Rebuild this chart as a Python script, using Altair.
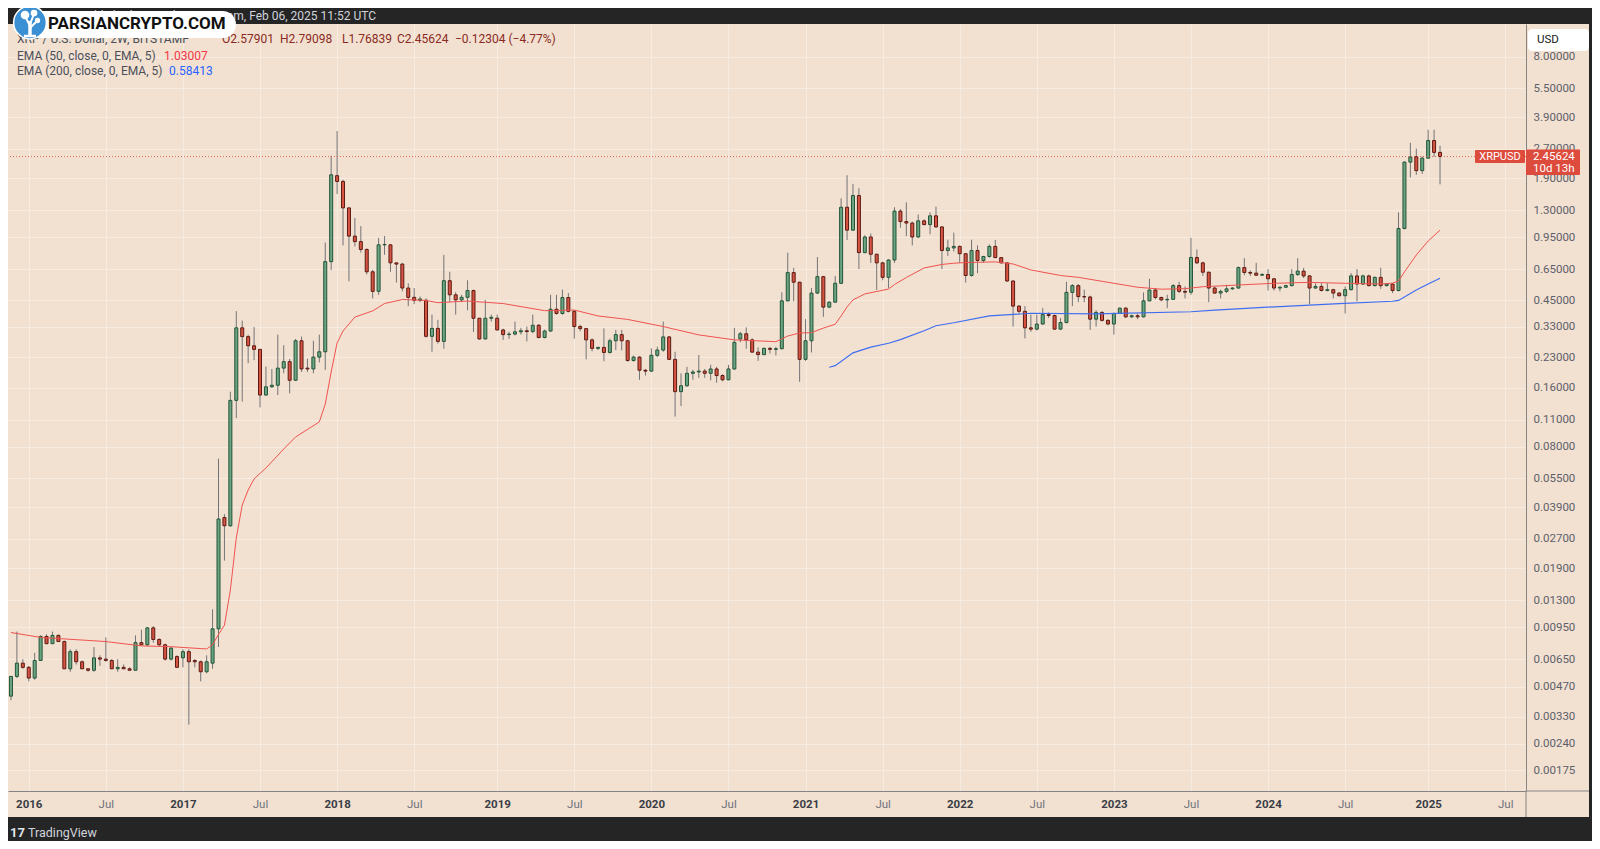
import altair as alt
import pandas as pd

# ---------------- data (XRP/USD, 2W candles, BITSTAMP) ----------------
opens = [
    .0042, .0053, .0062, .0059, .0052, .0064, .0085, .0078, .0086, .0080,
    .0058, .0071, .0063, .0058, .0057, .0066, .0065, .0064, .0058, .0059,
    .0058, .0057, .0079, .0077, .0094, .0082, .0077, .0065, .0067, .0066,
    .0071, .0064, .0063, .0056, .0062, .0093, .0346, .0314, .138, .325,
    .293, .263, .252, .147, .162, .165, .202, .218, .175, .279,
    .202, .200, .230, .245, .71, 1.96, 1.83, 1.34, .96, .90,
    .82, .63, .50, .866, .866, .70, .69, .52, .466, .45,
    .45, .294, .323, .277, .567, .48, .452, .466, .505, .364,
    .285, .364, .364, .317, .30, .302, .31, .314, .311, .335,
    .29, .313, .405, .385, .465, .395, .33, .322, .282, .255,
    .258, .243, .279, .30, .279, .221, .23, .197, .195, .235,
    .25, .292, .224, .153, .164, .19, .193, .195, .19, .20,
    .185, .176, .20, .285, .303, .282, .244, .237, .255, .252,
    .254, .447, .624, .557, .224, .279, .49, .595, .415, .44,
    .55, 1.35, 1.03, 1.55, .79, .95, .775, .70, .59, .724,
    1.29, 1.14, 1.12, .95, 1.15, 1.10, 1.22, 1.07, .81, .835,
    .85, .78, .603, .81, .72, .755, .85, .745, .70, .565,
    .42, .395, .325, .32, .34, .38, .376, .32, .346, .494,
    .535, .47, .468, .36, .39, .355, .34, .385, .41, .37,
    .375, .37, .447, .508, .465, .452, .455, .535, .50, .495,
    .746, .70, .627, .52, .49, .50, .515, .52, .662, .625,
    .62, .605, .61, .58, .52, .525, .535, .61, .635, .60,
    .52, .53, .505, .51, .49, .475, .51, .60, .545, .60,
    .535, .59, .535, .545, .505, 1.05, 2.30, 2.45, 2.08, 2.41,
    2.97, 2.57901,
]
highs = [
    .0053, .0090, .0065, .0060, .0070, .0086, .0087, .0090, .0087, .0081,
    .0073, .0073, .0064, .0058, .0075, .0068, .0084, .0065, .0065, .0061,
    .0059, .0086, .0092, .0095, .0096, .0083, .0078, .0075, .0068, .0073,
    .0073, .0065, .0064, .0068, .0117, .0694, .0360, .153, .396, .354,
    .300, .328, .252, .206, .200, .300, .265, .225, .285, .293,
    .226, .279, .300, .89, 2.48, 3.32, 1.87, 1.34, 1.19, 1.08,
    .83, .645, .94, .96, .87, .70, .70, .55, .52, .47,
    .46, .38, .357, .77, .63, .495, .48, .57, .51, .364,
    .452, .38, .38, .322, .31, .35, .325, .33, .38, .34,
    .318, .48, .48, .51, .49, .40, .337, .325, .287, .26,
    .323, .286, .317, .317, .282, .234, .232, .20, .255, .26,
    .35, .295, .245, .19, .205, .198, .236, .20, .21, .205,
    .188, .21, .325, .31, .327, .287, .258, .258, .26, .26,
    .495, .79, .66, .56, .36, .52, .75, .60, .445, .60,
    1.50, 1.97, 1.78, 1.69, .97, .99, .78, .71, .73, 1.35,
    1.32, 1.43, 1.14, 1.24, 1.17, 1.27, 1.36, 1.08, .92, 1.0,
    .86, .785, .92, .86, .76, .87, .917, .75, .70, .57,
    .425, .42, .38, .38, .41, .39, .38, .365, .56, .545,
    .545, .51, .475, .40, .395, .36, .39, .413, .415, .38,
    .385, .494, .58, .52, .47, .48, .545, .56, .53, .94,
    .82, .71, .63, .53, .51, .54, .525, .67, .74, .64,
    .70, .62, .65, .585, .53, .54, .65, .74, .66, .605,
    .55, .55, .55, .515, .495, .53, .62, .65, .61, .61,
    .595, .66, .55, .55, 1.27, 2.32, 2.89, 2.70, 2.46, 3.37,
    3.37, 2.79098,
]
lows = [
    .0040, .0052, .0058, .0050, .0051, .0064, .0078, .0078, .0080, .0058,
    .0056, .0061, .0058, .0056, .0056, .0060, .0063, .0058, .0056, .0058,
    .0057, .0057, .0077, .0076, .0079, .0076, .0064, .0064, .0059, .0059,
    .0030, .0059, .0050, .0055, .0058, .0075, .0208, .0310, .112, .136,
    .214, .222, .127, .146, .160, .147, .190, .150, .174, .193,
    .193, .190, .216, .198, .644, 1.58, .86, .563, .85, .79,
    .61, .46, .48, .77, .63, .555, .50, .42, .43, .44,
    .29, .245, .27, .254, .44, .38, .44, .40, .31, .283,
    .283, .35, .315, .282, .285, .297, .30, .277, .305, .287,
    .287, .31, .38, .38, .39, .286, .312, .224, .246, .25,
    .219, .24, .25, .249, .218, .218, .176, .185, .193, .23,
    .245, .222, .114, .129, .162, .176, .18, .18, .175, .17,
    .173, .175, .198, .274, .254, .242, .22, .235, .24, .235,
    .252, .445, .445, .172, .22, .243, .485, .37, .41, .437,
    .545, .917, 1.02, .65, .785, .70, .508, .57, .52, .70,
    1.06, .96, .86, .94, 1.09, .98, 1.06, .65, .76, .80,
    .70, .555, .595, .62, .70, .745, .74, .695, .56, .33,
    .38, .287, .31, .315, .337, .365, .318, .318, .343, .42,
    .44, .44, .317, .33, .35, .335, .30, .383, .365, .365,
    .36, .367, .445, .455, .445, .41, .452, .49, .46, .48,
    .69, .60, .44, .485, .46, .49, .51, .515, .605, .60,
    .60, .60, .505, .505, .50, .52, .53, .60, .585, .43,
    .515, .50, .50, .46, .47, .385, .505, .445, .54, .53,
    .53, .515, .53, .49, .50, 1.04, 1.92, 1.98, 2.00, 2.40,
    2.45, 1.76839,
]
closes = [
    .0053, .0062, .0059, .0052, .0064, .0085, .0078, .0086, .0080, .0058,
    .0071, .0063, .0058, .0057, .0066, .0065, .0064, .0058, .0059, .0058,
    .0057, .0079, .0077, .0094, .0082, .0077, .0065, .0074, .0059, .0071,
    .0063, .0063, .0056, .0063, .0093, .0340, .0314, .138, .325, .293,
    .263, .252, .147, .162, .165, .202, .218, .175, .279, .200,
    .200, .230, .245, .71, 1.98, 1.83, 1.34, .96, .90, .82,
    .63, .50, .866, .87, .70, .69, .52, .466, .45, .457,
    .294, .323, .277, .567, .48, .452, .466, .505, .364, .285,
    .364, .368, .317, .30, .302, .31, .314, .311, .335, .29,
    .313, .405, .385, .465, .395, .33, .322, .282, .255, .258,
    .243, .279, .30, .279, .221, .23, .197, .195, .235, .25,
    .292, .224, .153, .164, .19, .193, .195, .19, .20, .185,
    .176, .20, .274, .303, .282, .244, .237, .255, .252, .254,
    .447, .624, .557, .224, .279, .49, .595, .415, .44, .55,
    1.35, 1.03, 1.55, .79, .95, .775, .70, .59, .724, 1.29,
    1.14, 1.12, .95, 1.15, 1.10, 1.22, 1.07, .81, .835, .85,
    .78, .603, .81, .72, .755, .85, .745, .70, .565, .42,
    .395, .325, .32, .34, .38, .376, .32, .346, .494, .535,
    .47, .468, .36, .39, .355, .34, .385, .41, .37, .375,
    .37, .447, .508, .465, .452, .455, .535, .50, .495, .746,
    .70, .627, .52, .49, .50, .515, .52, .662, .625, .62,
    .605, .61, .58, .52, .525, .535, .61, .635, .60, .52,
    .53, .505, .51, .49, .475, .51, .60, .545, .60, .535,
    .59, .535, .545, .505, 1.05, 2.30, 2.44, 2.08, 2.41, 2.97,
    2.58, 2.45624,
]

# EMA readings (bar index, value)
ema50_idx = [0, 5, 16, 22, 27, 33, 34, 35, 36, 37,
             38, 39, 40, 41, 43, 46, 48, 52, 53, 54,
             55, 56, 58, 61, 63, 66, 68, 70, 72, 77,
             83, 90, 95, 99, 104, 110, 116, 122, 129, 131,
             133, 135, 137, 139, 140, 141, 142, 144, 148, 149,
             151, 154, 157, 159, 161, 166, 169, 172, 177, 180,
             186, 190, 194, 198, 201, 207, 213, 219, 225, 231,
             233, 234, 235, 237, 239, 241]
ema50_val = [0.0089, 0.0084, 0.0080, 0.0076, 0.00753, 0.00733, 0.0077, 0.0087, 0.0097, 0.0147,
             0.0272, 0.0401, 0.0479, 0.0546, 0.0621, 0.0777, 0.0896, 0.107, 0.132, 0.193,
             0.272, 0.313, 0.369, 0.397, 0.433, 0.454, 0.452, 0.449, 0.4375, 0.446,
             0.433, 0.398, 0.401, 0.374, 0.359, 0.330, 0.299, 0.282, 0.276, 0.295,
             0.306, 0.307, 0.324, 0.339, 0.374, 0.416, 0.452, 0.485, 0.514, 0.542,
             0.589, 0.659, 0.687, 0.697, 0.703, 0.708, 0.691, 0.644, 0.603, 0.59,
             0.55, 0.525, 0.513, 0.516, 0.528, 0.539, 0.55, 0.556, 0.55, 0.545,
             0.551, 0.565, 0.629, 0.768, 0.906, 1.03007]
ema200_idx = [138, 139, 142, 145, 148, 150, 154, 156, 159, 165, 172,
              183, 199, 203, 214, 224, 233, 234, 237, 239, 241]
ema200_val = [0.204, 0.208, 0.242, 0.259, 0.271, 0.283, 0.314, 0.333, 0.345, 0.374, 0.386,
              0.383, 0.393, 0.401, 0.418, 0.433, 0.445, 0.449, 0.508, 0.545, 0.58413]

y_ticks = [0.00175, 0.0024, 0.0033, 0.0047, 0.0065, 0.0095, 0.013, 0.019, 0.027,
           0.039, 0.055, 0.08, 0.11, 0.16, 0.23, 0.33, 0.45, 0.65, 0.95, 1.3,
           1.9, 2.7, 3.9, 5.5, 8.0]
# bars on which the time-axis labels sit
xtick_bars = [3, 16, 29, 42, 55, 68, 82, 95, 108, 121, 134, 147, 160, 173,
              186, 199, 212, 225, 239, 252]

# ---------------- styling ----------------
FONT = "Roboto"
BG = "#F2E1D1"
GRID = "#F7ECE2"
DARK = "#252525"
AXIS_LINE = "#858585"
G_BODY, G_BORDER = "#6ba583", "#225437"
R_BODY, R_BORDER = "#d75442", "#5b1a13"
WICK = "#737375"
EMA50_C = "#f0524f"
EMA200_C = "#3f6df2"
TAG = "#dd4b3d"
W, H = 1518, 767

START = pd.Timestamp("2015-11-09")


def bar_date(i):
    return (START + pd.Timedelta(days=14 * i)).strftime("%Y-%m-%d")


def dt(s):
    t = pd.Timestamp(s)
    return alt.DateTime(year=t.year, month=t.month, date=t.day, utc=True)


n = len(opens)
candles = pd.DataFrame({"d": [bar_date(i) for i in range(n)],
                        "o": opens, "h": highs, "l": lows, "c": closes})
ema50 = pd.DataFrame({"d": [bar_date(i) for i in ema50_idx], "v": ema50_val})
ema200 = pd.DataFrame({"d": [bar_date(i) for i in ema200_idx], "v": ema200_val})
cur_df = pd.DataFrame({"p": [closes[-1]]})
one = pd.DataFrame({"k": [0]})

is_year = "utcmonth(datum.value) == 11 || utcmonth(datum.value) == 0"
x_axis = alt.Axis(
    values=[dt(bar_date(k)) for k in xtick_bars], title=None, ticks=False,
    labelOverlap=False, labelFlush=False,
    labelExpr="utcmonth(datum.value) == 11 ? '' + (utcyear(datum.value) + 1) : "
              "(utcmonth(datum.value) == 0 ? '' + utcyear(datum.value) : 'Jul')",
    labelFont=FONT, labelFontSize=11.5, labelPadding=7,
    labelFontWeight={"condition": {"test": is_year, "value": "bold"}, "value": "normal"},
    labelColor={"condition": {"test": is_year, "value": "#3a3d45"}, "value": "#6f727c"},
    domainColor=AXIS_LINE, grid=True, gridColor=GRID, gridWidth=1)
x_scale = alt.Scale(type="utc", domain=[dt("2015-11-02"), dt("2025-08-25")],
                    padding=0, nice=False)
X = alt.X("d:T", scale=x_scale, axis=x_axis)

y_scale = alt.Scale(type="log", domain=[0.00137, 11.75], nice=False, padding=0)
y_axis = alt.Axis(orient="right", values=y_ticks, format=".5f", title=None, ticks=False,
                  labelPadding=7, labelFont=FONT, labelFontSize=11.5, labelColor="#5d606b",
                  domainColor=AXIS_LINE, grid=True, gridColor=GRID, labelFlush=False,
                  labelOverlap=False)


def box(x, x2, y, y2, color, radius=0):
    return alt.Chart(one).mark_rect(color=color, cornerRadius=radius).encode(
        x=alt.value(x), x2=alt.value(x2), y=alt.value(y), y2=alt.value(y2))


def rule(x, x2, y, y2, color, width=1):
    return alt.Chart(one).mark_rule(color=color, strokeWidth=width).encode(
        x=alt.value(x), x2=alt.value(x2), y=alt.value(y), y2=alt.value(y2))


def label(text, x, y, size=12, color="#4b4f5a", weight="normal", align="left", font=FONT):
    return alt.Chart(one).mark_text(text=text, align=align, baseline="middle", fontSize=size,
                                    font=font, fontWeight=weight, color=color).encode(
        x=alt.value(x), y=alt.value(y))


def dot(x, y, size, color="white"):
    return alt.Chart(one).mark_circle(size=size, color=color, opacity=1).encode(
        x=alt.value(x), y=alt.value(y))


# frame
top_bar = box(0, 1584, -16, 0, DARK)
footer = box(0, 1584, 793, 817, DARK)
right_strip = box(1581, 1584, -16, 817, DARK)
sep_v = rule(W, W, H, 793, AXIS_LINE)
sep_h = rule(W, 1581, H, H, AXIS_LINE)

# candles
wicks = alt.Chart(candles).mark_rule(color=WICK, strokeWidth=1).encode(
    x=X, y=alt.Y("l:Q", scale=y_scale, axis=y_axis), y2="h:Q")
bodies = alt.Chart(candles).mark_bar(size=3, strokeWidth=1).encode(
    x=X, y=alt.Y("o:Q", scale=y_scale, axis=y_axis), y2="c:Q",
    fill=alt.condition("datum.c >= datum.o", alt.value(G_BODY), alt.value(R_BODY)),
    stroke=alt.condition("datum.c >= datum.o", alt.value(G_BORDER), alt.value(R_BORDER)))
line50 = alt.Chart(ema50).mark_line(color=EMA50_C, strokeWidth=1).encode(
    x=X, y=alt.Y("v:Q", scale=y_scale, axis=y_axis))
line200 = alt.Chart(ema200).mark_line(color=EMA200_C, strokeWidth=1.2).encode(
    x=X, y=alt.Y("v:Q", scale=y_scale, axis=y_axis))
cur_line = alt.Chart(cur_df).mark_rule(color=R_BODY, strokeDash=[1, 2], strokeWidth=1,
                                       opacity=0.85).encode(
    y=alt.Y("p:Q", scale=y_scale, axis=y_axis))

# legend texts
OHLC_C = "#8a2a22"
legend = [
    label("XRP / U.S. Dollar, 2W, BITSTAMP", 9, 15),
    label("O2.57901", 214, 15, color=OHLC_C),
    label("H2.79098", 272, 15, color=OHLC_C),
    label("L1.76839", 334, 15, color=OHLC_C),
    label("C2.45624", 389, 15, color=OHLC_C),
    label("\u22120.12304 (\u22124.77%)", 447, 15, color=OHLC_C),
    label("EMA (50, close, 0, EMA, 5)", 9, 31.5),
    label("1.03007", 156, 31.5, color="#f23645"),
    label("EMA (200, close, 0, EMA, 5)", 9, 47),
    label("0.58413", 161, 47, color="#2962ff"),
]

# header / footer
header = label("bitcoinist published on TradingView.com, Feb 06, 2025 11:52 UTC", 368, -8.5,
               size=12, color="#d1d4dc", align="right")
foot_logo = label("17", 2, 809, size=13, color="#e0e3eb", weight="bold")
foot_text = label("TradingView", 20, 809, size=12.5, color="#d1d4dc")

# price tags and USD box
tags = [
    box(1467, 1517, 126, 139, TAG, 1),
    label("XRPUSD", 1492, 132.6, size=11, color="white", align="center"),
    box(W, 1572, 125.5, 151, TAG, 1),
    label("2.45624", 1525, 132.6, size=11.5, color="white"),
    label("10d 13h", 1525, 144.5, size=11.5, color="white"),
    box(1520, 1581, 5, 27, "white", 4),
    label("USD", 1529, 16, size=11.5, color="#131722"),
]

# watermark logo
logo = [
    box(10, 228, -13, 14, "white", 13.5),
    label("PARSIANCRYPTO.COM", 40, -0.5, size=17, color="#111111", weight="bold"),
    alt.Chart(one).mark_circle(size=1075, color="#3b8fd3", opacity=1, stroke="white",
                               strokeWidth=1.5).encode(x=alt.value(22), y=alt.value(-1.5)),
    rule(22, 22, -3, 12, "white", 3.5),
    rule(16, 28, 12, 12, "white", 2.5),
    rule(22, 17, 2, -8, "white", 2),
    rule(22, 26, 0, -10, "white", 2),
    rule(22, 29, 4, -3, "white", 2),
    dot(17, -9, 75),
    dot(26, -11, 45),
    dot(29.5, -3.5, 28),
]

chart = alt.layer(
    top_bar, footer, right_strip, sep_v, sep_h,
    wicks, bodies, line50, line200, cur_line,
    *legend, header, foot_logo, foot_text, *tags, *logo,
).properties(
    width=W, height=H,
    padding={"left": 0, "top": 16, "right": 66, "bottom": 50},
    autosize=alt.AutoSizeParams(type="none"),
    background=BG,
).configure_view(stroke=None)

chart.save("out.html", embed_options={"renderer": "svg", "actions": False})
